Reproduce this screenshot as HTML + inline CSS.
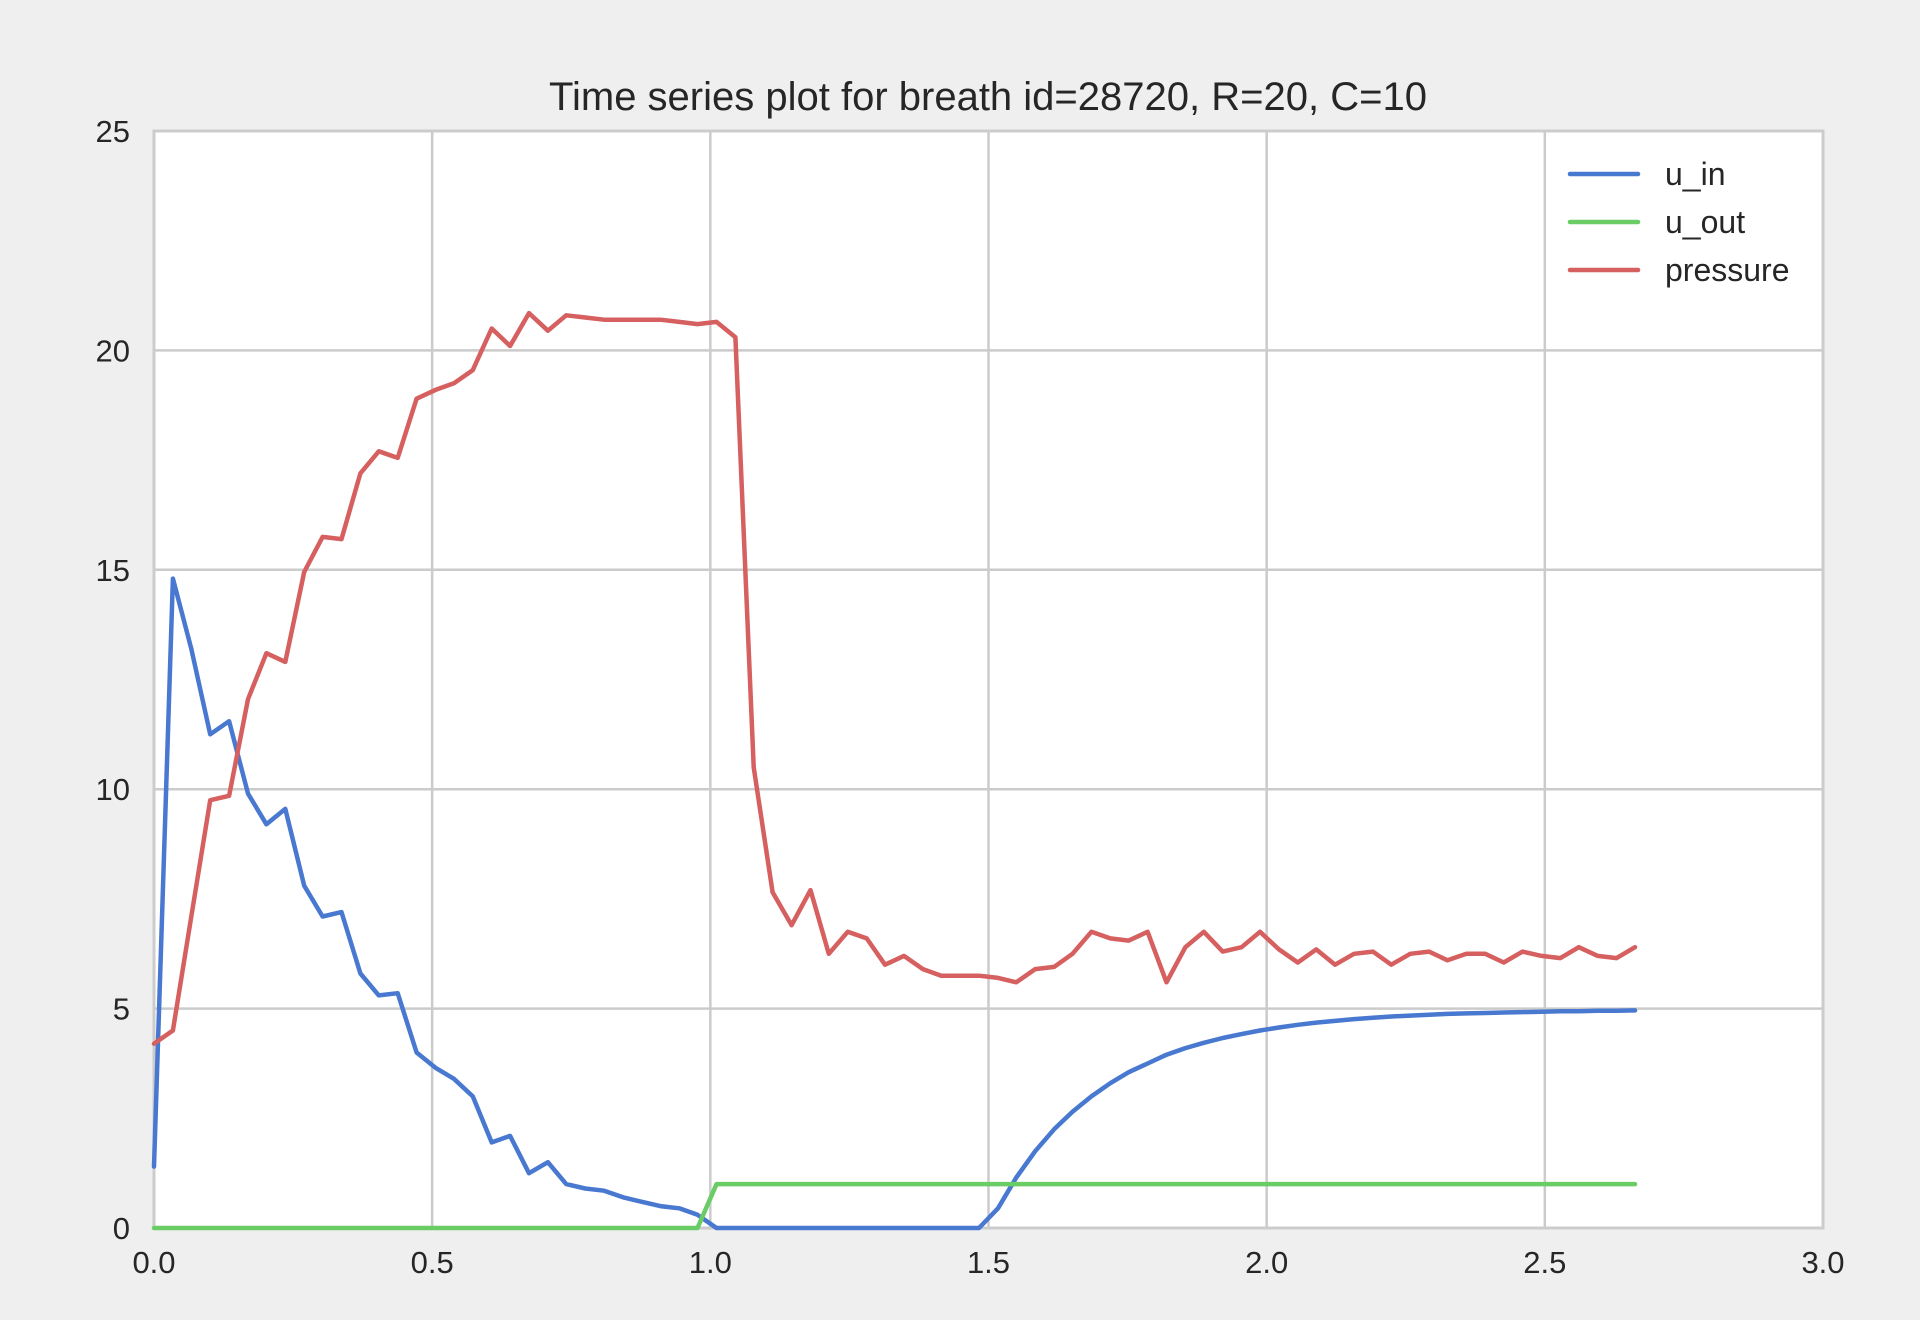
<!DOCTYPE html>
<html><head><meta charset="utf-8"><style>
html,body{margin:0;padding:0;background:#efefef;}
svg{display:block;font-family:"Liberation Sans",Arial,sans-serif;}
</style></head><body>
<svg id="chart" width="1920" height="1320" viewBox="0 0 1920 1320" xmlns="http://www.w3.org/2000/svg">
<rect x="0" y="0" width="1920" height="1320" fill="#efefef"/>
<text x="988" y="110" font-size="40" fill="#262626" text-anchor="middle">Time series plot for breath id=28720, R=20, C=10</text>
<rect x="154" y="131" width="1669" height="1097" fill="#ffffff"/>
<g id="grid"></g>
<g id="ticks"></g>
<rect x="154" y="131" width="1669" height="1097" fill="none" stroke="#cccccc" stroke-width="3"/>
<g id="series"></g>
<g>
<line x1="1570" y1="174" x2="1638" y2="174" stroke="#4878cf" stroke-width="4.5" stroke-linecap="round"/>
<text x="1665" y="185" font-size="32" fill="#262626">u_in</text>
<line x1="1570" y1="222" x2="1638" y2="222" stroke="#6acc65" stroke-width="4.5" stroke-linecap="round"/>
<text x="1665" y="233" font-size="32" fill="#262626">u_out</text>
<line x1="1570" y1="270" x2="1638" y2="270" stroke="#d65f5f" stroke-width="4.5" stroke-linecap="round"/>
<text x="1665" y="281" font-size="32" fill="#262626">pressure</text>
</g>
</svg>
<script>
const times = [0.000,0.034,0.067,0.101,0.135,0.169,0.202,0.236,0.270,0.303,0.337,0.371,0.404,0.438,0.472,0.506,0.539,0.573,0.607,0.640,0.674,0.708,0.741,0.775,0.809,0.843,0.876,0.910,0.944,0.977,1.011,1.045,1.078,1.112,1.146,1.180,1.213,1.247,1.281,1.314,1.348,1.382,1.415,1.449,1.483,1.517,1.550,1.584,1.618,1.651,1.685,1.719,1.752,1.786,1.820,1.854,1.887,1.921,1.955,1.988,2.022,2.056,2.089,2.123,2.157,2.191,2.224,2.258,2.292,2.325,2.359,2.393,2.426,2.460,2.494,2.528,2.561,2.595,2.629,2.662];
const uIn = [1.4,14.8,13.2,11.25,11.55,9.9,9.2,9.55,7.8,7.1,7.2,5.8,5.3,5.35,4.0,3.65,3.4,3.0,1.95,2.1,1.25,1.5,1.0,0.9,0.85,0.7,0.6,0.5,0.45,0.3,0,0,0,0,0,0,0,0,0,0,0,0,0,0,0,0.45,1.15,1.75,2.25,2.65,3.0,3.3,3.55,3.75,3.95,4.1,4.22,4.33,4.42,4.5,4.57,4.63,4.68,4.72,4.76,4.79,4.82,4.84,4.86,4.88,4.89,4.9,4.91,4.92,4.93,4.94,4.94,4.95,4.95,4.96];
const uOut = [0,0,0,0,0,0,0,0,0,0,0,0,0,0,0,0,0,0,0,0,0,0,0,0,0,0,0,0,0,0,1,1,1,1,1,1,1,1,1,1,1,1,1,1,1,1,1,1,1,1,1,1,1,1,1,1,1,1,1,1,1,1,1,1,1,1,1,1,1,1,1,1,1,1,1,1,1,1,1,1];
const pressure = [4.2,4.5,7.1,9.75,9.85,12.05,13.1,12.9,14.95,15.75,15.7,17.2,17.7,17.55,18.9,19.1,19.25,19.55,20.5,20.1,20.85,20.45,20.8,20.75,20.7,20.7,20.7,20.7,20.65,20.6,20.65,20.3,10.5,7.65,6.9,7.7,6.25,6.75,6.6,6.0,6.2,5.9,5.75,5.75,5.75,5.7,5.6,5.9,5.95,6.25,6.75,6.6,6.55,6.75,5.6,6.4,6.75,6.3,6.4,6.75,6.35,6.05,6.35,6.0,6.25,6.3,6.0,6.25,6.3,6.1,6.25,6.25,6.05,6.3,6.2,6.15,6.4,6.2,6.15,6.4];
const xTicks = ["0.0","0.5","1.0","1.5","2.0","2.5","3.0"];
const yTicks = ["0","5","10","15","20","25"];

const NS = "http://www.w3.org/2000/svg";
const L = 154, R = 1823, T = 131, B = 1228;
const xMin = 0, xMax = 3, yMin = 0, yMax = 25;
function xs(v){ return L + (v - xMin) / (xMax - xMin) * (R - L); }
function ys(v){ return B - (v - yMin) / (yMax - yMin) * (B - T); }

const grid = document.getElementById('grid');
const ticks = document.getElementById('ticks');
xTicks.forEach(t => {
  const v = parseFloat(t), x = xs(v);
  const ln = document.createElementNS(NS, 'line');
  ln.setAttribute('x1', x); ln.setAttribute('x2', x); ln.setAttribute('y1', T); ln.setAttribute('y2', B);
  ln.setAttribute('stroke', '#cbcbcb'); ln.setAttribute('stroke-width', '2.5');
  
  
  grid.appendChild(ln);
  const tx = document.createElementNS(NS, 'text');
  tx.setAttribute('x', x); tx.setAttribute('y', 1273); tx.setAttribute('font-size', '31');
  tx.setAttribute('text-anchor', 'middle'); tx.setAttribute('fill', '#262626');
  tx.textContent = t;
  
  
  ticks.appendChild(tx);
});
yTicks.forEach(t => {
  const v = parseFloat(t), y = ys(v);
  const ln = document.createElementNS(NS, 'line');
  ln.setAttribute('x1', L); ln.setAttribute('x2', R); ln.setAttribute('y1', y); ln.setAttribute('y2', y);
  ln.setAttribute('stroke', '#cbcbcb'); ln.setAttribute('stroke-width', '2.5');
  
  
  grid.appendChild(ln);
  const tx = document.createElementNS(NS, 'text');
  tx.setAttribute('x', 130); tx.setAttribute('y', y + 11); tx.setAttribute('font-size', '31');
  tx.setAttribute('text-anchor', 'end'); tx.setAttribute('fill', '#262626');
  tx.textContent = t;
  
  
  ticks.appendChild(tx);
});

const series = document.getElementById('series');
function drawLine(vals, color, name){
  const pts = vals.map((v, i) => xs(times[i]).toFixed(1) + ',' + ys(v).toFixed(1)).join(' ');
  const pl = document.createElementNS(NS, 'polyline');
  pl.setAttribute('points', pts);
  pl.setAttribute('fill', 'none'); pl.setAttribute('stroke', color);
  pl.setAttribute('stroke-width', '4.5'); pl.setAttribute('stroke-linejoin', 'round'); pl.setAttribute('stroke-linecap', 'round');
  
  
  series.appendChild(pl);
}
drawLine(uIn, '#4878cf', 'u-in-line');
drawLine(uOut, '#6acc65', 'u-out-line');
drawLine(pressure, '#d65f5f', 'pressure-line');
</script>
</body></html>
